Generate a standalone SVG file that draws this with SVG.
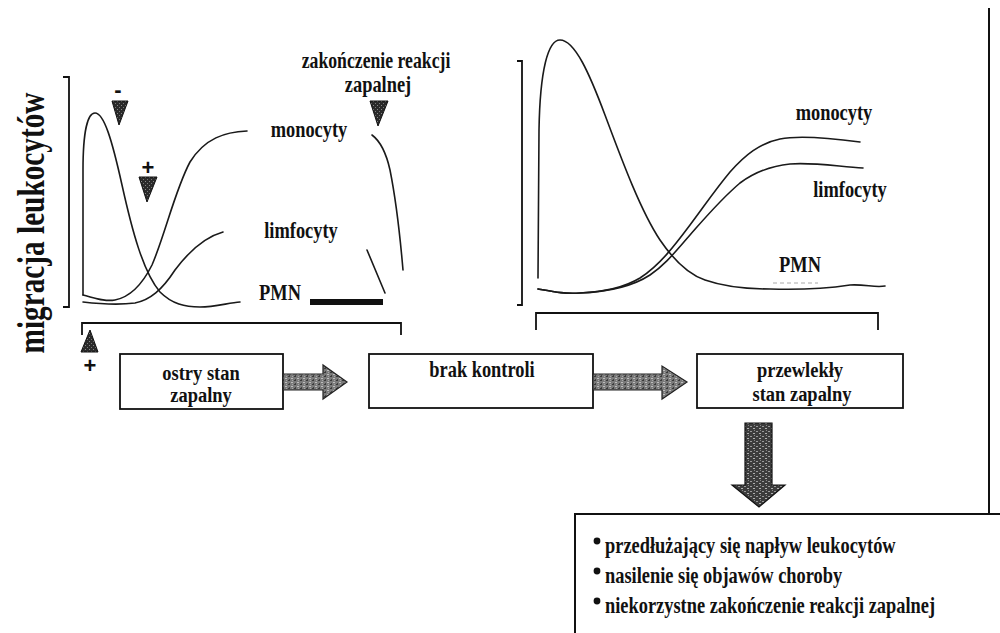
<svg xmlns="http://www.w3.org/2000/svg" width="1000" height="633" viewBox="0 0 1000 633">
<style>
.t{font-family:"Liberation Serif","DejaVu Serif",serif;font-weight:bold;font-size:23px;fill:#111}
.t2{font-family:"Liberation Serif","DejaVu Serif",serif;font-weight:bold;font-size:21px;fill:#111}
.s{font-family:"Liberation Sans","DejaVu Sans",sans-serif;font-weight:bold;font-size:22px;fill:#111}
.c{fill:none;stroke:#1a1a1a;stroke-width:1.6;stroke-linecap:round;stroke-linejoin:round}
.ax{fill:none;stroke:#111;stroke-width:1.8}
.box{fill:#fff;stroke:#111;stroke-width:1.8}
.arr{fill:url(#tex);stroke:#222;stroke-width:1.2}
.tri{fill:url(#tex3);stroke:#111;stroke-width:1}
</style>
<defs>
<pattern id="tex" width="6" height="4" patternUnits="userSpaceOnUse">
<rect width="6" height="4" fill="#7a7a7a"/>
<rect x="0" y="0" width="2" height="1" fill="#3a3a3a"/>
<rect x="3" y="2" width="2" height="1" fill="#bdbdbd"/>
<rect x="4" y="0" width="1" height="1" fill="#a8a8a8"/>
<rect x="1" y="3" width="1" height="1" fill="#444"/>
</pattern>
<pattern id="tex2" width="6" height="5" patternUnits="userSpaceOnUse">
<rect width="6" height="5" fill="#3c3c3c"/>
<rect x="0" y="1" width="2" height="1" fill="#9a9a9a"/>
<rect x="3" y="3" width="2" height="1" fill="#b0b0b0"/>
<rect x="4" y="0" width="1" height="1" fill="#888"/>
</pattern>
<pattern id="tex3" width="4" height="4" patternUnits="userSpaceOnUse">
<rect width="4" height="4" fill="#2a2a2a"/>
<rect x="1" y="1" width="1" height="1" fill="#888"/>
<rect x="3" y="3" width="1" height="1" fill="#777"/>
</pattern>
</defs>
<rect width="1000" height="633" fill="#fff"/>

<!-- y-axis label -->
<g id="ylabel">
<text class="t" style="font-size:38px" text-anchor="middle" transform="translate(44,223) rotate(-90) scale(0.77,1)">migracja leukocytów</text>
</g>

<!-- left chart -->
<g id="chart-left">
<path class="ax" d="M63,77 L69,77 L69,307 L63,307"/>
<path class="c" d="M83,295 L83,170 C83,130 88,113 95,113 C104,113 112,140 122,185 C132,230 143,272 160,292 C172,304 185,307 200,307 C215,307 228,303 240,302"/>
<path class="c" d="M83,295 C95,298 105,302 115,300 C130,297 142,285 152,265 C165,235 175,190 190,162 C205,138 225,132 247,131"/>
<path class="c" d="M83,302 C100,304 120,305 135,303 C150,300 162,290 175,270 C190,250 205,237 223,232"/>
<path class="c" d="M372,135 C380,141 386,152 390,170 C396,200 400,235 403,270"/>
<path class="c" d="M367,250 L385,293"/>
<rect x="310" y="299" width="73" height="6" fill="#111"/>
<text class="t" transform="translate(309,137) scale(0.8,1)" text-anchor="middle">monocyty</text>
<text class="t" transform="translate(301,238) scale(0.8,1)" text-anchor="middle">limfocyty</text>
<text class="t" transform="translate(280,300) scale(0.8,1)" text-anchor="middle">PMN</text>
<path class="ax" d="M82,335 L82,323 L401,323 L401,335"/>
</g>

<!-- markers -->
<g id="markers">
<text class="s" x="118" y="97" text-anchor="middle">-</text>
<polygon class="tri" points="112,101 128,101 119,125"/>
<text class="s" x="148" y="175" text-anchor="middle">+</text>
<polygon class="tri" points="139,177 157,177 147,202"/>
<polygon class="tri" points="370,101 388,101 378,126"/>
<polygon class="tri" points="90,330 81,352 98,352"/>
<text class="s" x="90" y="373" text-anchor="middle">+</text>
</g>

<g id="label-end">
<text class="t" transform="translate(376,68) scale(0.77,1)" text-anchor="middle">zakończenie reakcji</text>
<text class="t" transform="translate(378,92) scale(0.8,1)" text-anchor="middle">zapalnej</text>
</g>

<!-- right chart -->
<g id="chart-right">
<path class="ax" d="M517,61 L522,61 L522,305 L517,305"/>
<path class="c" d="M538,278 L539,130 C540,70 548,40 560,40 C575,40 590,75 605,115 C620,155 640,210 660,240 C675,262 690,275 705,280 C725,287 745,289 770,289 C800,290 830,288 850,285 C865,284 875,288 885,286"/>
<path class="c" d="M538,289 C555,292 565,294 580,293 C605,292 625,287 640,278 C660,265 675,245 690,225 C705,205 715,190 730,172 C745,155 760,143 780,139 C800,135 830,138 860,142"/>
<path class="c" d="M538,289 C555,292 565,294 580,293 C605,292 630,288 650,275 C665,265 675,252 690,235 C705,218 720,200 740,183 C755,172 770,166 790,164 C810,162 835,166 863,168"/>
<path d="M773,283 L818,283" fill="none" stroke="#aaa" stroke-width="1" stroke-dasharray="4,3"/>
<text class="t" transform="translate(834,120) scale(0.8,1)" text-anchor="middle">monocyty</text>
<text class="t" transform="translate(850,197) scale(0.8,1)" text-anchor="middle">limfocyty</text>
<text class="t" transform="translate(800,272) scale(0.8,1)" text-anchor="middle">PMN</text>
<path class="ax" d="M536,330 L536,313 L878,313 L878,330"/>
</g>

<!-- flow boxes -->
<g id="box-acute">
<rect class="box" x="120" y="354" width="163" height="55"/>
<text class="t2" transform="translate(201,380) scale(0.88,1)" text-anchor="middle">ostry stan</text>
<text class="t2" transform="translate(201,402) scale(0.88,1)" text-anchor="middle">zapalny</text>
</g>
<g id="box-nocontrol">
<rect class="box" x="369" y="354" width="224" height="54"/>
<text class="t" transform="translate(482,377) scale(0.8,1)" text-anchor="middle">brak kontroli</text>
</g>
<g id="box-chronic">
<rect class="box" x="697" y="354" width="206" height="54"/>
<text class="t2" transform="translate(800,377) scale(0.88,1)" text-anchor="middle">przewlekły</text>
<text class="t2" transform="translate(802,401) scale(0.88,1)" text-anchor="middle">stan zapalny</text>
</g>

<g id="connectors">
<polygon class="arr" points="283,374 323,374 323,365 347,382 323,399 323,390 283,390"/>
<polygon class="arr" points="593,374 662,374 662,366 687,382 662,399 662,390 593,390"/>
<polygon points="745,423 772,423 772,485 785,485 759,507 732,485 745,485" fill="url(#tex2)" stroke="#111" stroke-width="1.2"/>
</g>

<!-- frame lines -->
<g id="frame">
<path d="M989,8 L989,514" fill="none" stroke="#111" stroke-width="2"/>
<path d="M1000,514 L575,514 L575,633" fill="none" stroke="#111" stroke-width="2"/>
</g>

<g id="consequences">
<circle cx="597" cy="541" r="3.4" fill="#111"/>
<circle cx="597" cy="571" r="3.4" fill="#111"/>
<circle cx="597" cy="601" r="3.4" fill="#111"/>
<text class="t" transform="translate(605,553) scale(0.8,1)">przedłużający się napływ leukocytów</text>
<text class="t" transform="translate(605,583) scale(0.8,1)">nasilenie się objawów choroby</text>
<text class="t" transform="translate(605,613) scale(0.8,1)">niekorzystne zakończenie reakcji zapalnej</text>
</g>
</svg>
